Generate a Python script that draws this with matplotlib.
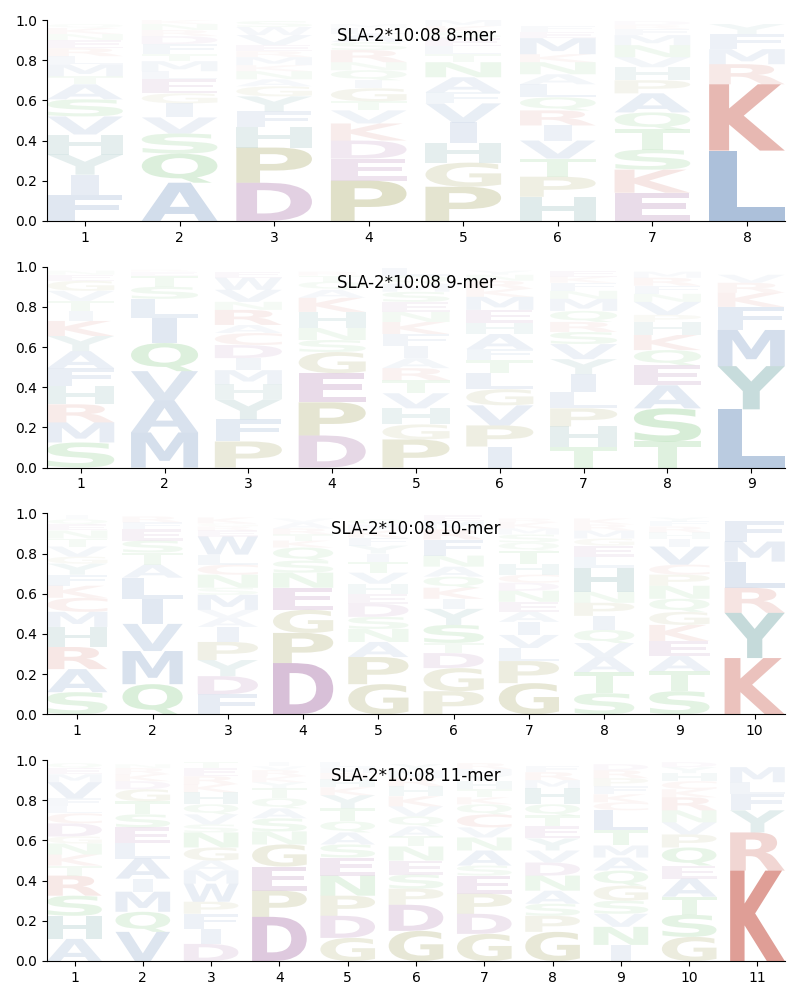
import matplotlib
matplotlib.use("Agg")
import matplotlib.pyplot as plt
from matplotlib.textpath import TextPath
from matplotlib.patches import PathPatch
from matplotlib.font_manager import FontProperties
import matplotlib.transforms as mtransforms

allele = "SLA-2*10:08"

# letters bottom -> top for each position, with their heights
letters_8 = ["FIYHVSATMLRENKQ", "AQSVIGELMTFDRNK", "DPHFYGANKMREVWS", "PEDKVTGIQNRSALM",
             "PGHIVFANTLESKM", "HPTVIRQLANKMEF", "EKSTQAPHVNMFRD", "LKRMFY"]
heights_8 = [
    [.13, .10, .10, .10, .09, .085, .075, .04, .06, .04, .04, .04, .03, .03, .02],
    [.19, .145, .10, .08, .07, .05, .07, .04, .05, .035, .05, .04, .03, .03, .02],
    [.19, .175, .10, .08, .075, .05, .035, .04, .03, .04, .03, .03, .05, .04, .03],
    [.20, .11, .09, .085, .065, .045, .065, .04, .05, .04, .06, .04, .04, .03, .02],
    [.17, .12, .10, .10, .095, .055, .075, .075, .04, .04, .04, .03, .03, .03],
    [.12, .10, .09, .09, .075, .075, .065, .065, .05, .06, .04, .08, .03, .03],
    [.14, .115, .10, .10, .085, .095, .065, .065, .05, .06, .05, .03, .02, .02],
    [.35, .33, .10, .075, .075, .05],
]

letters_9 = ["SMRHFAYKITVGEN", "MAVQILSTER", "PFYHMIDCARNVWE", "DPEGSNHKAQTR",
             "PGHVTRAIFKNESMQL", "IPVGLTFAHEMKRNY", "THPLIYVSRQMNFKE", "TSAEQKHPVNFRM",
             "LYMFKRV"]
heights_9 = [
    [.125, .10, .09, .09, .09, .085, .075, .075, .05, .05, .05, .05, .03, .02],
    [.175, .16, .145, .14, .125, .095, .06, .055, .02, .01],
    [.13, .11, .10, .075, .07, .06, .065, .06, .04, .075, .04, .06, .06, .03],
    [.16, .165, .145, .105, .06, .06, .08, .07, .04, .04, .03, .02],
    [.14, .075, .08, .075, .065, .06, .05, .06, .06, .06, .05, .05, .05, .04, .04, .04],
    [.105, .105, .10, .08, .08, .065, .055, .075, .055, .065, .065, .04, .04, .03, .02],
    [.105, .10, .09, .08, .09, .075, .075, .06, .05, .055, .06, .04, .04, .03, .03],
    [.13, .165, .115, .10, .075, .075, .065, .035, .065, .04, .04, .04, .03],
    [.29, .215, .18, .115, .07, .05, .04],
]

letters_10 = ["SARHMCKFYGVTNEQI", "QMVILATSEFR", "FDYPIAVMSNCLWERGK", "DPGENSQKTRAV",
              "GPANSDEHVTIYFKMQ", "PGDTSYIKQANFRME", "GPLVIAENDCHTQSMKR", "STAVQIPNHLEGMRK",
              "STAEKGQNPCVIHRFY", "KYRLMF"]
heights_10 = [
    [.11, .115, .11, .10, .075, .07, .06, .055, .055, .035, .05, .04, .04, .03, .025, .02],
    [.15, .165, .135, .125, .105, .065, .06, .06, .055, .035, .03],
    [.10, .09, .08, .09, .075, .045, .04, .075, .035, .065, .05, .05, .09, .03, .02, .015, .03],
    [.255, .15, .115, .11, .075, .06, .065, .035, .03, .03, .03, .02],
    [.15, .135, .075, .065, .06, .065, .05, .05, .055, .055, .04, .04, .04, .035, .03, .025],
    [.115, .115, .075, .05, .09, .08, .05, .055, .055, .05, .055, .08, .05, .04, .03],
    [.155, .11, .065, .065, .065, .05, .05, .055, .04, .04, .055, .065, .04, .04, .03, .03, .02],
    [.105, .105, .075, .07, .065, .07, .065, .055, .12, .055, .055, .035, .04, .03, .03],
    [.115, .10, .075, .075, .08, .065, .065, .065, .055, .05, .09, .04, .03, .03, .025, .02],
    [.28, .225, .125, .13, .10, .10],
]

letters_11 = ["AHSRTKNGDCLFVMEQ", "VQMIALESTGDKRN", "DIFPWMAGNSVQHKRET", "DPEGNSAQTYKRVI",
              "GDPNESAQTYKHRML", "GDPSENTAQVKHRMY", "GDPESANVCQKTHYMR", "GPSANDVYETQHMRF",
              "INVSGQAMTLCKFPRD", "GSTAEQPVNRKCHYD", "KRYFLM"]
heights_11 = [
    [.11, .115, .10, .10, .05, .055, .055, .035, .065, .05, .035, .04, .08, .04, .03, .025],
    [.145, .10, .10, .065, .10, .075, .08, .065, .065, .06, .04, .035, .03, .02],
    [.085, .075, .075, .06, .09, .065, .05, .065, .075, .04, .05, .05, .06, .04, .04, .04, .03],
    [.22, .13, .12, .11, .065, .065, .05, .05, .05, .03, .03, .03, .02, .02],
    [.115, .11, .10, .10, .09, .065, .06, .055, .065, .065, .04, .04, .03, .03, .025],
    [.15, .13, .08, .07, .07, .07, .05, .05, .05, .05, .05, .05, .04, .04, .03],
    [.135, .10, .10, .09, .05, .075, .065, .05, .065, .05, .035, .04, .04, .03, .03, .03],
    [.145, .08, .06, .065, .075, .065, .06, .06, .06, .055, .055, .08, .04, .04, .03],
    [.08, .09, .065, .065, .075, .075, .065, .06, .075, .10, .04, .04, .04, .04, .04, .03],
    [.12, .11, .09, .09, .065, .09, .065, .06, .06, .065, .04, .04, .04, .03, .025],
    [.45, .19, .11, .08, .06, .075],
]

panels = [(8, letters_8, heights_8), (9, letters_9, heights_9),
          (10, letters_10, heights_10), (11, letters_11, heights_11)]

# colour groups
colors = {}
for aa in "AVLIMFW":
    colors[aa] = "#3a6aa8"
for aa in "YH":
    colors[aa] = "#2a7878"
for aa in "KRC":
    colors[aa] = "#c44c3e"
for aa in "DE":
    colors[aa] = "#823482"
for aa in "PG":
    colors[aa] = "#7e7e1c"
for aa in "STNQ":
    colors[aa] = "#36a836"

fp = FontProperties(family="DejaVu Sans", weight="bold")
# glyphs are never stretched wider than an 'E' would be
e_width = TextPath((0, 0), "E", size=1, prop=fp).get_extents().width


def draw_letter(ax, ch, x, y, w, h, color, alpha):
    tp = TextPath((0, 0), ch, size=1, prop=fp)
    ext = tp.get_extents()
    sx = min(w / ext.width, w / e_width)
    t = (mtransforms.Affine2D()
         .translate(-ext.x0, -ext.y0)
         .scale(sx, h / ext.height)
         .translate(x - ext.width * sx / 2, y))
    ax.add_patch(PathPatch(t.transform_path(tp), facecolor=color,
                           edgecolor="none", alpha=alpha))


fig, axes = plt.subplots(4, 1, figsize=(8, 10), dpi=100)
fig.subplots_adjust(left=0.059, right=0.981, top=0.98, bottom=0.039, hspace=0.228)

for ax, (n, letters, heights) in zip(axes, panels):
    for pos in range(n):
        y = 0.0
        for ch, h in zip(letters[pos], heights[pos]):
            draw_letter(ax, ch, pos + 1, y, 0.8, h, colors[ch], min(1.0, 1.2 * h))
            y += h
    ax.set_xlim(0.6, n + 0.4)
    ax.set_ylim(0, 1)
    ax.set_xticks(range(1, n + 1))
    ax.set_yticks([0, 0.2, 0.4, 0.6, 0.8, 1.0])
    ax.spines["top"].set_visible(False)
    ax.spines["right"].set_visible(False)
    ax.text(0.5, 0.92, f"{allele} {n}-mer", transform=ax.transAxes,
            ha="center", va="center", fontsize=12)

fig.savefig("out.png")
